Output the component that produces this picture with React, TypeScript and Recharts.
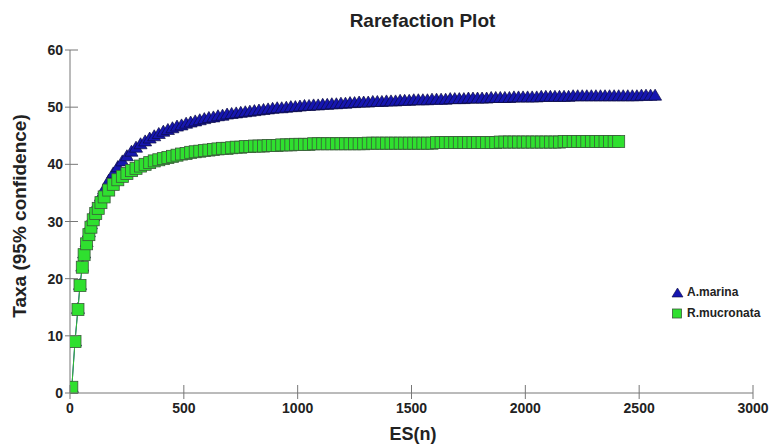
import { ScatterChart, Scatter, XAxis, YAxis } from 'recharts';

// ES(n) sample points, shared by both curves
const esN = [
  8, 22, 35, 44, 54, 62, 73, 83, 92, 102, 113, 124, 136, 150,
  170, 190, 210, 230, 250, 270, 290, 310, 330, 350,
  370, 390, 410, 430, 450, 470, 490, 510, 530, 550,
  570, 590, 610, 630, 650, 670, 690, 710, 730, 750,
  770, 790, 810, 830, 850, 870, 890, 910, 930, 950,
  970, 990, 1010, 1030, 1050, 1070, 1090, 1110, 1130, 1150,
  1170, 1190, 1210, 1230, 1250, 1270, 1290, 1310, 1330, 1350,
  1370, 1390, 1410, 1430, 1450, 1470, 1490, 1510, 1530, 1550,
  1570, 1590, 1610, 1630, 1650, 1670, 1690, 1710, 1730, 1750,
  1770, 1790, 1810, 1830, 1850, 1870, 1890, 1910, 1930, 1950,
  1970, 1990, 2010, 2030, 2050, 2070, 2090, 2110, 2130, 2150,
  2170, 2190, 2210, 2230, 2250, 2270, 2290, 2310, 2330, 2350,
  2370, 2390, 2410, 2430, 2450, 2470, 2490, 2510, 2530, 2550,
  2570,
];

const taxaMarina = [
  1.0, 9.1, 14.8, 19.0, 22.2, 24.5, 26.5, 28.2, 29.6, 31.0, 32.3, 33.4, 34.5, 35.7,
  37.2, 38.5, 39.6, 40.6, 41.5, 42.3, 43.0, 43.6, 44.1, 44.6,
  45.0, 45.4, 45.8, 46.1, 46.4, 46.7, 46.9, 47.2, 47.4, 47.6,
  47.8, 48.0, 48.2, 48.3, 48.5, 48.6, 48.8, 48.9, 49.0, 49.1,
  49.2, 49.3, 49.4, 49.5, 49.6, 49.7, 49.8, 49.9, 49.9, 50.0,
  50.1, 50.1, 50.2, 50.3, 50.3, 50.4, 50.4, 50.5, 50.5, 50.6,
  50.6, 50.7, 50.7, 50.8, 50.8, 50.9, 50.9, 50.9, 51.0, 51.0,
  51.0, 51.1, 51.1, 51.1, 51.2, 51.2, 51.2, 51.3, 51.3, 51.3,
  51.3, 51.4, 51.4, 51.4, 51.4, 51.5, 51.5, 51.5, 51.5, 51.6,
  51.6, 51.6, 51.6, 51.6, 51.7, 51.7, 51.7, 51.7, 51.7, 51.8,
  51.8, 51.8, 51.8, 51.8, 51.8, 51.9, 51.9, 51.9, 51.9, 51.9,
  51.9, 51.9, 52.0, 52.0, 52.0, 52.0, 52.0, 52.0, 52.0, 52.0,
  52.0, 52.0, 52.0, 52.0, 52.0, 52.0, 52.0, 52.1, 52.1, 52.1,
  52.1,
];

const taxaMucronata = [
  1.0, 9.0, 14.6, 18.8, 22.0, 24.2, 26.1, 27.7, 29.0, 30.3, 31.4, 32.3, 33.3, 34.3,
  35.5, 36.5, 37.3, 37.9, 38.4, 38.9, 39.3, 39.7, 40.0, 40.3,
  40.6, 40.8, 41.0, 41.2, 41.4, 41.6, 41.8, 41.9, 42.1, 42.2,
  42.3, 42.4, 42.5, 42.6, 42.7, 42.8, 42.8, 42.9, 43.0, 43.0,
  43.1, 43.1, 43.2, 43.2, 43.2, 43.3, 43.3, 43.3, 43.4, 43.4,
  43.4, 43.5, 43.5, 43.5, 43.5, 43.6, 43.6, 43.6, 43.6, 43.6,
  43.6, 43.6, 43.6, 43.6, 43.6, 43.6, 43.6, 43.7, 43.7, 43.7,
  43.7, 43.7, 43.7, 43.7, 43.7, 43.7, 43.7, 43.7, 43.7, 43.7,
  43.7, 43.7, 43.8, 43.8, 43.8, 43.8, 43.8, 43.8, 43.8, 43.8,
  43.8, 43.8, 43.8, 43.8, 43.8, 43.8, 43.9, 43.9, 43.9, 43.9,
  43.9, 43.9, 43.9, 43.9, 43.9, 43.9, 43.9, 43.9, 43.9, 43.9,
  44.0, 44.0, 44.0, 44.0, 44.0, 44.0, 44.0, 44.0, 44.0, 44.0,
  44.0, 44.0, 44.0,
];

const xTicks = [0, 500, 1000, 1500, 2000, 2500, 3000];
const yTicks = [0, 10, 20, 30, 40, 50, 60];

const marinaData = taxaMarina.map((t, i) => ({ n: esN[i], taxa: t }));
const mucronataData = taxaMucronata.map((t, i) => ({ n: esN[i], taxa: t }));

const FONT = '"Liberation Sans", Arial, sans-serif';
const AXIS = '#777';

const Triangle = (p: any) => (
  <path
    d={`M${p.cx},${p.cy - 6}L${p.cx + 6.5},${p.cy + 5}L${p.cx - 6.5},${p.cy + 5}Z`}
    fill="#1616b0"
    stroke="#0c0c40"
    strokeWidth={0.7}
  />
);

const Square = (p: any) => (
  <rect x={p.cx - 6} y={p.cy - 6} width={12} height={12} fill="#2fe02f" stroke="#3a5a3a" strokeWidth={0.8} />
);

const XTick = (p: any) => (
  <g>
    <line x1={p.x} x2={p.x} y1={p.y - 8} y2={p.y + 6} stroke={AXIS} />
    <text x={p.x} y={p.y + 20} textAnchor="middle" fontFamily={FONT} fontWeight="bold" fontSize={14} fill="#222">
      {p.payload.value}
    </text>
  </g>
);

const YTick = (p: any) => (
  <g>
    <line x1={p.x - 5} x2={p.x + 8} y1={p.y} y2={p.y} stroke={AXIS} />
    <text x={p.x - 7} y={p.y + 5} textAnchor="end" fontFamily={FONT} fontWeight="bold" fontSize={14} fill="#222">
      {p.payload.value}
    </text>
  </g>
);

export default function App() {
  const txt = { position: 'absolute' as const, fontFamily: FONT, fontWeight: 'bold' as const, color: '#222' };
  return (
    <div style={{ position: 'absolute', left: 0, top: 0, width: 780, height: 447, background: '#fff' }}>
      <ScatterChart width={780} height={447} margin={{ top: 50, right: 27, bottom: 0, left: 0 }}>
        <XAxis
          type="number"
          dataKey="n"
          domain={[0, 3000]}
          ticks={xTicks}
          height={54}
          tickSize={0}
          tickMargin={0}
          tick={XTick}
          axisLine={{ stroke: AXIS }}
          allowDataOverflow
        />
        <YAxis
          type="number"
          dataKey="taxa"
          domain={[0, 60]}
          ticks={yTicks}
          width={70}
          tickSize={0}
          tickMargin={0}
          tick={YTick}
          axisLine={{ stroke: AXIS }}
        />
        <Scatter data={marinaData} shape={Triangle} line={{ stroke: '#1616b0', strokeWidth: 1 }} isAnimationActive={false} />
        <Scatter data={mucronataData} shape={Square} line={{ stroke: '#2fc02f', strokeWidth: 1 }} isAnimationActive={false} />
      </ScatterChart>

      <div style={{ ...txt, left: 0, width: 845, top: 10, textAlign: 'center', fontSize: 19 }}>Rarefaction Plot</div>
      <div style={{ ...txt, left: 0, width: 826, top: 424, textAlign: 'center', fontSize: 18 }}>ES(n)</div>
      <div
        style={{
          ...txt,
          left: 20,
          top: 216,
          fontSize: 19,
          whiteSpace: 'nowrap',
          transform: 'translate(-50%, -50%) rotate(-90deg)',
        }}
      >
        Taxa (95% confidence)
      </div>

      <svg style={{ position: 'absolute', left: 670, top: 286 }} width={16} height={34}>
        <path d="M7.5,2L13,11L2,11Z" fill="#1616b0" stroke="#0c0c40" strokeWidth={0.6} />
        <rect x={2.5} y={23} width={9} height={9} fill="#2fe02f" stroke="#3a5a3a" strokeWidth={0.8} />
      </svg>
      <div style={{ ...txt, left: 687, top: 285, fontSize: 12 }}>A.marina</div>
      <div style={{ ...txt, left: 687, top: 306, fontSize: 12 }}>R.mucronata</div>
    </div>
  );
}
